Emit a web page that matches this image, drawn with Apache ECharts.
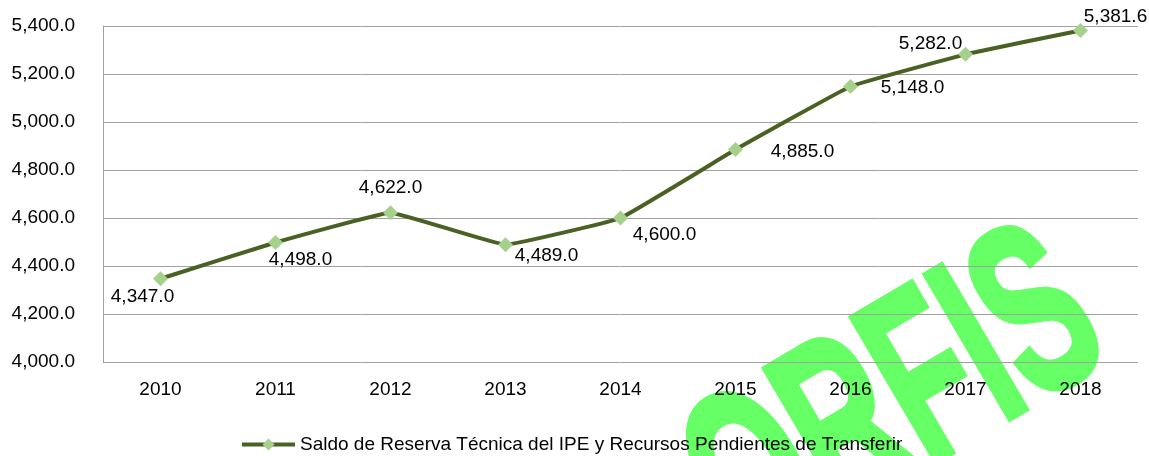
<!DOCTYPE html>
<html>
<head>
  <meta charset="UTF-8">
  <title>Saldo de Reserva Técnica</title>
  <script src="https://cdn.jsdelivr.net/npm/echarts@6/dist/echarts.min.js"></script>
</head>
<body style="margin:0">
  <div id="chart" style="width: 1149px; height:456px"></div>
  <script>
    // datos
    var years = ['2010', '2011', '2012', '2013', '2014', '2015', '2016', '2017', '2018'];
    var saldo = [4347.0, 4498.0, 4622.0, 4489.0, 4600.0, 4885.0, 5148.0, 5282.0, 5381.6];
    var serieNombre = 'Saldo de Reserva Técnica del IPE y Recursos Pendientes de Transferir';
    var yMin = 4000, yMax = 5400, yStep = 200;

    // desplazamiento de cada etiqueta respecto al punto (px)
    var labelOffsets = [[-18, 18], [25, 17], [0, -25], [41, 11], [44, 17], [67, 2], [62, 1], [-35, -11], [35, -14]];

    function fmt(v) {
      return v.toLocaleString('en-US', { minimumFractionDigits: 1, maximumFractionDigits: 1 });
    }

    var font = 'Liberation Sans, Arial, sans-serif';
    var myChart = echarts.init(document.getElementById('chart'));

    var puntos = saldo.map(function (v, i) {
      return {
        value: v,
        label: { offset: labelOffsets[i] }
      };
    });

    var option = {
      animation: false,
      grid: { left: 103, right: 11, top: 26, bottom: 94 },
      xAxis: {
        type: 'category',
        data: years,
        z: 3,
        axisLine: { show: false },
        axisTick: { show: false },
        axisLabel: { color: '#000', fontSize: 19, fontFamily: font, margin: 18 }
      },
      yAxis: {
        type: 'value',
        min: yMin,
        max: yMax,
        interval: yStep,
        z: 2,
        axisLine: { show: true, lineStyle: { color: '#a0a0a0', width: 1 } },
        axisTick: { show: false },
        splitLine: { show: true, lineStyle: { color: '#a0a0a0', width: 1 } },
        axisLabel: {
          color: '#000', fontSize: 19, fontFamily: font, margin: 28,
          formatter: function (v) { return fmt(v); }
        }
      },
      legend: {
        data: [serieNombre],
        left: 240,
        top: 435,
        padding: 0,
        z: 5,
        itemWidth: 53,
        itemHeight: 15,
        itemGap: 5,
        lineStyle: { width: 4 },
        textStyle: { color: '#000', fontSize: 19, fontFamily: font }
      },
      // marca de agua detras de todo
      graphic: [{
        type: 'text',
        x: 897,
        y: 407,
        rotation: 0.53,
        scaleX: 0.58,
        z: 0,
        silent: true,
        style: {
          text: 'ORFIS',
          fill: '#66ff66',
          stroke: '#66ff66',
          lineWidth: 7,
          lineJoin: 'miter',
          font: 'bold 241px "Liberation Sans Narrow", "Liberation Sans", Arial, sans-serif',
          align: 'center',
          verticalAlign: 'middle'
        }
      }],
      series: [{
        name: serieNombre,
        type: 'line',
        z: 4,
        smooth: 0.08,
        data: puntos,
        symbol: 'diamond',
        symbolSize: 15,
        itemStyle: { color: '#a6d18c' },
        lineStyle: { color: '#4a6124', width: 4 },
        label: {
          show: true,
          position: 'inside',
          align: 'center',
          verticalAlign: 'middle',
          color: '#000',
          fontSize: 19,
          fontFamily: font,
          formatter: function (p) { return fmt(p.value); }
        }
      }]
    };
    myChart.setOption(option);
  </script>
</body>
</html>
